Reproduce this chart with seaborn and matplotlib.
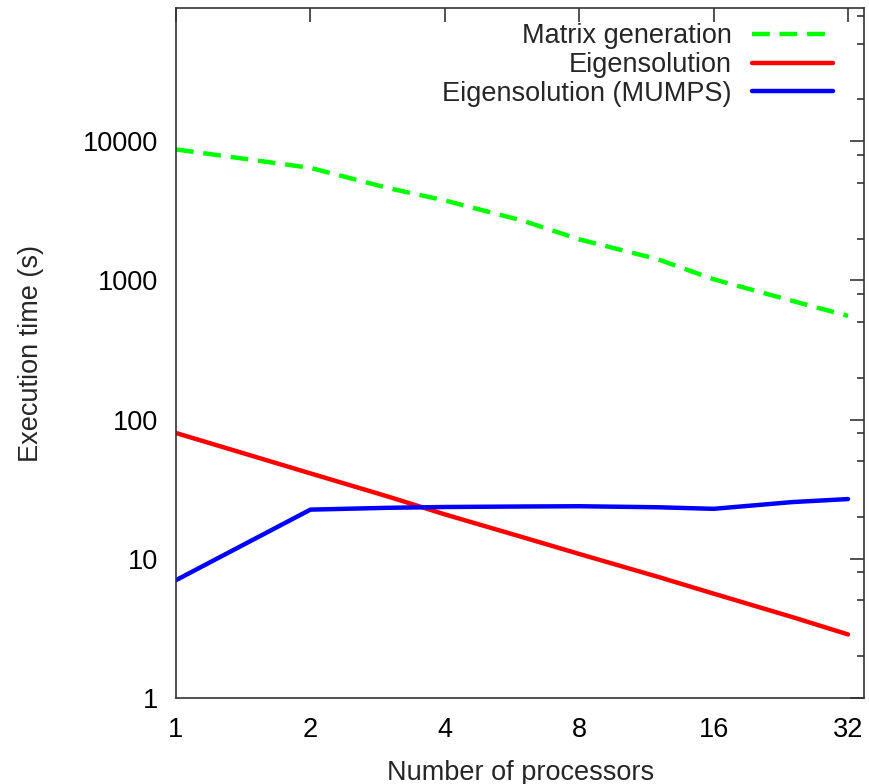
import numpy as np
import pandas as pd
import matplotlib
matplotlib.use('Agg')
import matplotlib.pyplot as plt
import seaborn as sns
from matplotlib.ticker import LogLocator, NullFormatter, NullLocator, FixedLocator, FixedFormatter

sns.set_style('white')
plt.rcParams['font.family'] = ['Liberation Sans', 'DejaVu Sans']

# processor counts and timings (s)
procs = [1, 2, 3, 4, 6, 8, 12, 16, 24, 32]
matrix_gen = [8750, 6450, 4600, 3760, 2680, 1975, 1420, 1020, 713, 556]
eigen = [80, 41, 27.8, 20.8, 14.2, 10.8, 7.4, 5.6, 3.8, 2.85]
eigen_mumps = [7.0, 22.5, 23.2, 23.5, 23.7, 23.8, 23.4, 22.8, 25.5, 26.8]

x_ticks = [1, 2, 4, 8, 16, 32]
y_ticks = [1, 10, 100, 1000, 10000]

fig = plt.figure(figsize=(8.7, 7.84), dpi=100)
ax = fig.add_axes([176 / 870, 1 - 697.7 / 784, (864.3 - 176) / 870, (697.7 - 8.3) / 784])

sns.lineplot(x=procs, y=matrix_gen, ax=ax, color='#00ff00', lw=3.2,
             linestyle=(0, (4, 2.2)), label='Matrix generation')
sns.lineplot(x=procs, y=eigen, ax=ax, color='#ff0000', lw=3.2, label='Eigensolution')
sns.lineplot(x=procs, y=eigen_mumps, ax=ax, color='#0000ff', lw=3.2,
             label='Eigensolution (MUMPS)')

ax.set_xscale('log', base=2)
ax.set_yscale('log')
ax.set_xlim(1, 34.8)
ax.set_ylim(1, 90500)

ax.xaxis.set_major_locator(FixedLocator(x_ticks))
ax.xaxis.set_major_formatter(FixedFormatter([str(v) for v in x_ticks]))
ax.xaxis.set_minor_locator(NullLocator())
ax.yaxis.set_major_locator(FixedLocator(y_ticks))
ax.yaxis.set_major_formatter(FixedFormatter([str(v) for v in y_ticks]))
ax.yaxis.set_minor_locator(LogLocator(base=10, subs=[2, 5, 8]))
ax.yaxis.set_minor_formatter(NullFormatter())

ax.tick_params(which='both', direction='in', top=True, right=True, colors='#333333',
               labelcolor='black', labelsize=19.5)
ax.tick_params(which='major', length=10, width=1.2)
ax.tick_params(which='minor', length=5, width=1.2)
ax.tick_params(axis='x', pad=14)
ax.tick_params(axis='y', pad=13)

for s in ax.spines.values():
    s.set_color('#333333')
    s.set_linewidth(1.2)

ax.set_xlabel('Number of processors', fontsize=19.5)
ax.set_ylabel('Execution time (s)', fontsize=19.5)
ax.xaxis.set_label_coords(0.5, -0.09)
ax.yaxis.set_label_coords(-0.192, 0.5)

ax.legend(loc='upper right', bbox_to_anchor=(0.9545, 0.978), frameon=False,
          fontsize=19.5, markerfirst=False, handlelength=3.0, handletextpad=0.75,
          labelspacing=0.1, borderpad=0, borderaxespad=0)

fig.savefig('out.png', dpi=100)
